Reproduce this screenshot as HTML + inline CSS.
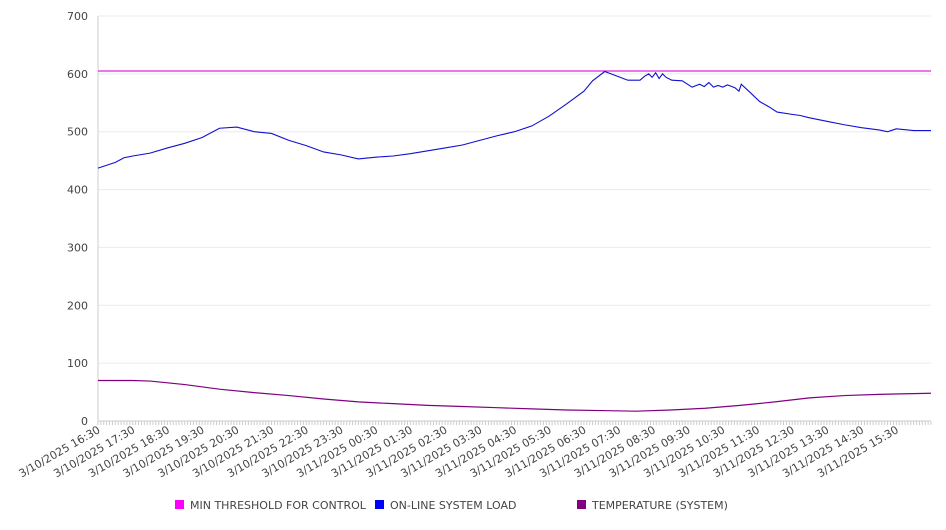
<!DOCTYPE html>
<html><head><meta charset="utf-8"><style>
body{margin:0;background:#fff;font-family:"DejaVu Sans","Liberation Sans",sans-serif;}
svg text{font-family:"DejaVu Sans","Liberation Sans",sans-serif;}
</style></head><body>
<svg id="c" width="946" height="526" xmlns="http://www.w3.org/2000/svg"></svg>
<script>
const yTicks=[0,100,200,300,400,500,600,700];
const xLabels=["3/10/2025 16:30","3/10/2025 17:30","3/10/2025 18:30","3/10/2025 19:30","3/10/2025 20:30","3/10/2025 21:30","3/10/2025 22:30","3/10/2025 23:30","3/11/2025 00:30","3/11/2025 01:30","3/11/2025 02:30","3/11/2025 03:30","3/11/2025 04:30","3/11/2025 05:30","3/11/2025 06:30","3/11/2025 07:30","3/11/2025 08:30","3/11/2025 09:30","3/11/2025 10:30","3/11/2025 11:30","3/11/2025 12:30","3/11/2025 13:30","3/11/2025 14:30","3/11/2025 15:30"];
const threshold=605;
const loadMin=[0,15,30,45,60,90,120,150,180,210,240,270,300,330,360,390,420,450,480,510,540,570,600,630,660,690,720,750,780,810,840,855,876,895,916,937,945,952,958,964,970,976,982,992,1010,1027,1040,1048,1056,1064,1072,1080,1088,1096,1101,1108,1112,1125,1144,1160,1174,1200,1214,1230,1260,1290,1320,1350,1365,1380,1410,1440];
const loadVal=[437,442,447,455,458,463,472,480,490,506,508,500,497,485,476,465,460,453,456,458,462,467,472,477,485,493,500,510,527,548,570,588,604,597,589,589,596,600,594,602,592,600,594,589,588,577,582,578,585,577,580,577,581,578,576,570,582,570,552,543,534,530,528,524,518,512,507,503,500,505,502,502];
const tempMin=[0,60,90,150,210,270,330,390,450,510,570,630,690,750,810,870,930,990,1050,1110,1170,1230,1290,1350,1440];
const tempVal=[70,70,69,63,55,49,44,38,33,30,27,25,23,21,19,18,17,19,22,27,33,40,44,46,48];
const NS="http://www.w3.org/2000/svg";
const svg=document.getElementById('c');
const L=98,R=931,T=16,B=421;
const x=m=>L+(R-L)*m/1440;
const y=v=>B-(B-T)*v/700;
function el(t,a,p){const e=document.createElementNS(NS,t);for(const k in a)e.setAttribute(k,a[k]);(p||svg).appendChild(e);return e;}
yTicks.forEach(v=>{
 const g=el('line',{x1:L,x2:R,y1:y(v),y2:y(v),stroke:'#ebebeb','stroke-width':1});
 
 
 const t=el('text',{x:88,y:y(v)+4,'text-anchor':'end','font-size':11,fill:'#444'});
 t.textContent=v;
 
 
});
const ax=el('line',{x1:L,x2:L,y1:T,y2:B,stroke:'#ccc'});


const bx=el('line',{x1:L,x2:R,y1:B,y2:B,stroke:'#ccc'});


for(let m=0;m<=1440;m+=5){
 const tk=el('line',{x1:x(m),x2:x(m),y1:B,y2:B+4,stroke:'#ccc'});
 
 
}
xLabels.forEach((s,i)=>{
 const px=x(i*60)+3;
 const t=el('text',{x:px,y:432,'text-anchor':'end','font-size':11,fill:'#444',transform:`rotate(-30 ${px} 432)`});
 t.textContent=s;
 
 
});
const th=el('line',{x1:L,x2:R,y1:y(threshold),y2:y(threshold),stroke:'#e020e0','stroke-width':1.2});


const lp=el('polyline',{points:loadMin.map((m,i)=>x(m)+','+y(loadVal[i])).join(' '),fill:'none',stroke:'#1010d0','stroke-width':1.1});


const tp=el('polyline',{points:tempMin.map((m,i)=>x(m)+','+y(tempVal[i])).join(' '),fill:'none',stroke:'#800080','stroke-width':1.2});


const leg=[["MIN THRESHOLD FOR CONTROL","#ff00ff",175],["ON-LINE SYSTEM LOAD","#0000ff",375],["TEMPERATURE (SYSTEM)","#800080",577]];
leg.forEach(l=>{
 const g=el('g',{});
 
 
 el('rect',{x:l[2],y:500,width:9,height:9,fill:l[1]},g);
 const t=el('text',{x:l[2]+15,y:509,'font-size':11,fill:'#444'},g);
 t.textContent=l[0];
});
</script>
</body></html>
